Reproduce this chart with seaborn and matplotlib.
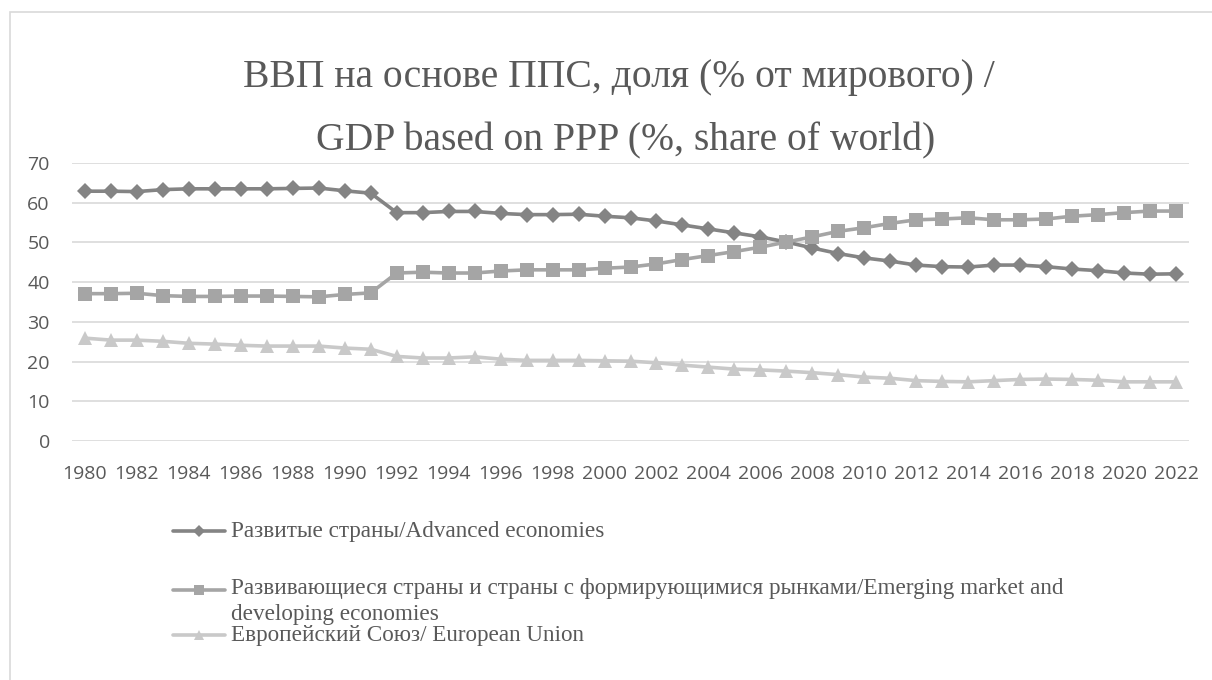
import numpy as np
import pandas as pd
import matplotlib
matplotlib.use("Agg")
import matplotlib.pyplot as plt
import seaborn as sns
from matplotlib.lines import Line2D
from matplotlib.patches import Rectangle

# ===== data =====
years = list(range(1980, 2023))

advanced = [62.9, 62.9, 62.8, 63.3, 63.5, 63.5, 63.5, 63.5, 63.6, 63.7, 63.0, 62.4,
            57.5, 57.5, 57.8, 57.8, 57.3, 57.0, 57.0, 57.1, 56.6, 56.2, 55.4, 54.4,
            53.4, 52.4, 51.4, 50.1, 48.6,
            47.2, 46.1, 45.3, 44.3, 43.9, 43.8, 44.3, 44.3, 43.9, 43.3, 42.9, 42.3,
            42.0, 42.1]

emerging = [37.1, 37.1, 37.2, 36.6, 36.4, 36.4, 36.5, 36.5, 36.4, 36.3, 36.9, 37.3,
            42.3, 42.5, 42.3, 42.3, 42.8, 43.1, 43.1, 43.1, 43.5, 43.8, 44.6, 45.7,
            46.7, 47.7, 48.8, 50.1, 51.4,
            52.8, 53.7, 54.8, 55.7, 55.9, 56.2, 55.7, 55.7, 55.9, 56.6, 57.0, 57.5,
            57.9, 57.9]

eu = [25.9, 25.4, 25.4, 25.1, 24.6, 24.4, 24.1, 23.9, 23.9, 23.9, 23.4, 23.1,
      21.3, 20.9, 20.9, 21.2, 20.6, 20.3, 20.3, 20.3, 20.2, 20.1, 19.7, 19.1,
      18.6, 18.1, 17.9, 17.6, 17.2,
      16.7, 16.1, 15.8, 15.2, 15.0, 14.9, 15.2, 15.5, 15.6, 15.5, 15.3, 14.9,
      14.9, 14.9]

labels = ["Развитые страны/Advanced economies",
          "Развивающиеся страны и страны с формирующимися рынками/Emerging market and\ndeveloping economies",
          "Европейский Союз/ European Union"]

title_ru = "ВВП на основе ППС, доля (% от мирового) /"
title_en = "GDP based on PPP (%, share of world)"

# ===== style =====
sns.set_style("white")
plt.rcParams['font.family'] = ['Open Sans', 'DejaVu Sans']

colors = ['#848484', '#a5a5a5', '#c9c9c9']
markers = ['D', 's', '^']
msizes = [8.5, 9.5, 10]
txt_col = '#595959'

df = pd.DataFrame({'year': years, 'adv': advanced, 'emg': emerging, 'eu': eu})

fig = plt.figure(figsize=(12.12, 6.8), dpi=100)
ax = fig.add_axes([72 / 1212, 1 - 441 / 680, (1189 - 72) / 1212, (441 - 163) / 680])

for col, c, m, ms in zip(['adv', 'emg', 'eu'], colors, markers, msizes):
    sns.lineplot(data=df, x='year', y=col, ax=ax, color=c, marker=m,
                 markersize=ms, markeredgewidth=0, linewidth=2.6, zorder=3)

ax.set_xlim(1979.5, 2022.5)
ax.set_ylim(0, 70)
ax.set_xticks(range(1980, 2023, 2))
ax.set_yticks(range(0, 71, 10))
ax.set_xlabel('')
ax.set_ylabel('')
ax.grid(axis='y', color='#d9d9d9', linewidth=1.2)
for s in ax.spines.values():
    s.set_visible(False)
ax.tick_params(axis='x', length=0, pad=17, labelsize=14, labelcolor=txt_col)
ax.tick_params(axis='y', length=0, pad=16, labelsize=14, labelcolor=txt_col)

# title, two lines
fig.text(243 / 1212, 1 - 87 / 680, title_ru, ha='left', va='baseline',
         fontsize=28.5, color=txt_col, family='Liberation Serif')
fig.text(316 / 1212, 1 - 150 / 680, title_en, ha='left', va='baseline',
         fontsize=28.5, color=txt_col, family='Liberation Serif')

# legend drawn below the plot
leg_y = [531, 590, 635]
for lab, c, m, ms, yy in zip(labels, colors, markers, msizes, leg_y):
    yf = 1 - yy / 680
    fig.add_artist(Line2D([173 / 1212, 199 / 1212, 225 / 1212], [yf, yf, yf],
                          transform=fig.transFigure, color=c, linewidth=2.6,
                          marker=m, markersize=ms * 0.75, markeredgewidth=0,
                          markevery=[1]))
    if '\n' in lab:
        fig.text(231 / 1212, yf + 12 / 680, lab, ha='left', va='top',
                 fontsize=16.7, color=txt_col, family='Liberation Serif',
                 linespacing=1.3)
    else:
        fig.text(231 / 1212, yf, lab, ha='left', va='center',
                 fontsize=16.7, color=txt_col, family='Liberation Serif')

# chart border
fig.add_artist(Rectangle((10 / 1212, -0.1), 1.2, 1.1 - 12 / 680,
                         transform=fig.transFigure, fill=False,
                         edgecolor='#d9d9d9', linewidth=1.2))

fig.savefig('out.png', dpi=100)
